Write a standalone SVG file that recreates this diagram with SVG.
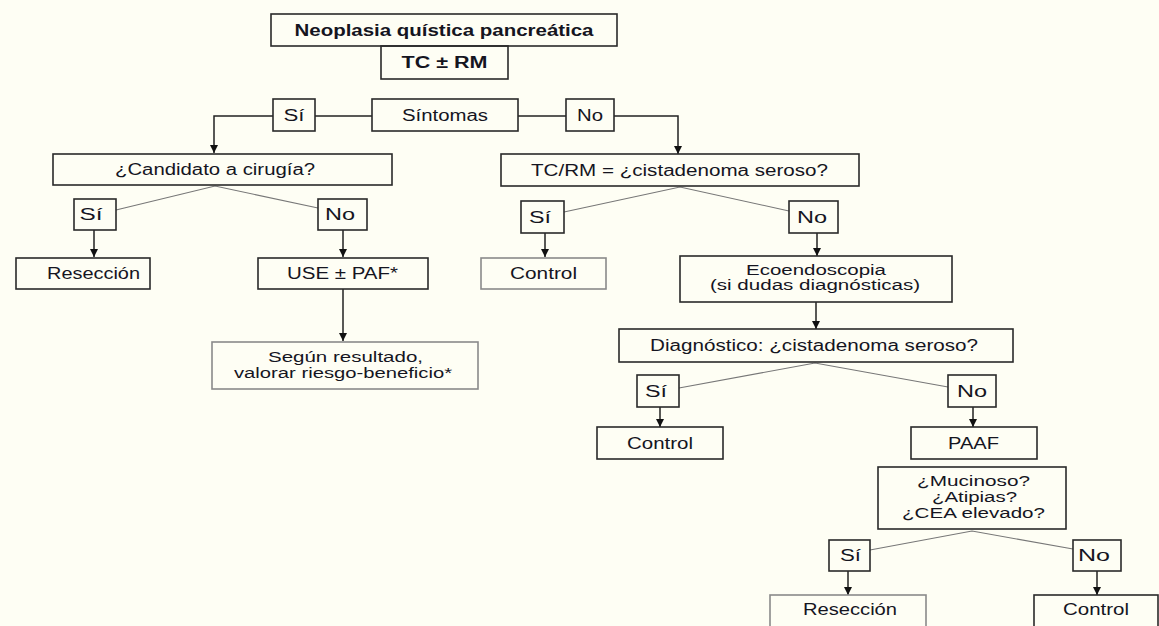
<svg xmlns="http://www.w3.org/2000/svg" width="1159" height="626" viewBox="0 0 1159 626">
<style>
  .bx{fill:none;stroke:#2a2a2a;stroke-width:1.6}
  .gb{fill:none;stroke:#8a8a8a;stroke-width:1.6}
  .t{font-family:"Liberation Sans",Arial,sans-serif;font-size:16px;fill:#15151f;text-anchor:middle}
  .m{font-size:14px}
  .b{font-weight:bold}
  .ln{fill:none;stroke:#222;stroke-width:1.5}
  .dg{fill:none;stroke:#777;stroke-width:1.1}
</style>
<defs>
  <marker id="ah" viewBox="0 0 8 8" refX="8" refY="4" markerWidth="8" markerHeight="8" markerUnits="userSpaceOnUse" orient="auto">
    <path d="M0,0 L8,4 L0,8 Z" fill="#111"/>
  </marker>
</defs>
<rect x="0" y="0" width="1159" height="626" fill="#fefef4"/>

<g id="connectors">
  <polyline class="ln" points="372,116 315,116"/>
  <polyline class="ln" points="273,116 214,116 214,153" marker-end="url(#ah)"/>
  <polyline class="ln" points="518,116 566,116"/>
  <polyline class="ln" points="614,116 678,116 678,154" marker-end="url(#ah)"/>
  <polyline class="dg" points="116,210 215,186 318,208"/>
  <line class="ln" x1="94" y1="230" x2="94" y2="257" marker-end="url(#ah)"/>
  <line class="ln" x1="343" y1="230" x2="343" y2="257" marker-end="url(#ah)"/>
  <line class="ln" x1="343" y1="289" x2="343" y2="341" marker-end="url(#ah)"/>
  <polyline class="dg" points="564,212 680,187 789,211"/>
  <line class="ln" x1="545" y1="233" x2="545" y2="257" marker-end="url(#ah)" stroke="#777"/>
  <line class="ln" x1="817" y1="233" x2="817" y2="256" marker-end="url(#ah)" stroke="#777"/>
  <line class="ln" x1="816" y1="302" x2="816" y2="329" marker-end="url(#ah)"/>
  <polyline class="dg" points="679,388 815,363 948,387"/>
  <line class="ln" x1="660" y1="407" x2="660" y2="427" marker-end="url(#ah)" stroke="#555"/>
  <line class="ln" x1="973" y1="407" x2="973" y2="427" marker-end="url(#ah)" stroke="#555"/>
  <polyline class="dg" points="870,550 972,531 1073,549"/>
  <line class="ln" x1="848" y1="571" x2="848" y2="595" marker-end="url(#ah)"/>
  <line class="ln" x1="1097" y1="571" x2="1097" y2="595" marker-end="url(#ah)"/>
</g>

<g id="n-neoplasia"><rect class="bx" x="271" y="14" width="346" height="32"/><text class="t b" x="444" y="35.5" textLength="299" lengthAdjust="spacingAndGlyphs">Neoplasia quística pancreática</text></g>
<g id="n-tcrm"><rect class="bx" x="381" y="46" width="127" height="33"/><text class="t b" x="444.5" y="68" textLength="86" lengthAdjust="spacingAndGlyphs">TC ± RM</text></g>
<g id="n-si1"><rect class="bx" x="273" y="99" width="42" height="32"/><text class="t" x="294" y="120.5" textLength="21" lengthAdjust="spacingAndGlyphs">Sí</text></g>
<g id="n-sintomas"><rect class="bx" x="372" y="99" width="146" height="32"/><text class="t" x="445" y="120.5" textLength="86" lengthAdjust="spacingAndGlyphs">Síntomas</text></g>
<g id="n-no1"><rect class="bx" x="566" y="99" width="48" height="32"/><text class="t" x="590" y="120.5" textLength="26" lengthAdjust="spacingAndGlyphs">No</text></g>

<g id="n-candidato"><rect class="bx" x="53" y="154" width="339" height="31"/><text class="t" x="215" y="175" textLength="200" lengthAdjust="spacingAndGlyphs">¿Candidato a cirugía?</text></g>
<g id="n-si2"><rect class="bx" x="74" y="199" width="42" height="31"/><text class="t" x="91" y="220" textLength="23" lengthAdjust="spacingAndGlyphs">Sí</text></g>
<g id="n-no2"><rect class="bx" x="318" y="199" width="49" height="31"/><text class="t" x="340" y="220" textLength="30" lengthAdjust="spacingAndGlyphs">No</text></g>
<g id="n-reseccion1"><rect class="bx" x="16" y="258" width="134" height="31"/><text class="t" x="93.5" y="279" textLength="93" lengthAdjust="spacingAndGlyphs">Resección</text></g>
<g id="n-use"><rect class="bx" x="258" y="258" width="170" height="31"/><text class="t" x="342.5" y="279" textLength="111" lengthAdjust="spacingAndGlyphs">USE ± PAF*</text></g>
<g id="n-segun"><rect class="gb" x="212" y="342" width="266" height="47"/><text class="t m" x="345.5" y="362" textLength="155" lengthAdjust="spacingAndGlyphs">Según resultado,</text><text class="t m" x="343" y="378" textLength="218" lengthAdjust="spacingAndGlyphs">valorar riesgo-beneficio*</text></g>

<g id="n-tcrm-q"><rect class="bx" x="501" y="154" width="358" height="32"/><text class="t" x="679.5" y="175.5" textLength="297" lengthAdjust="spacingAndGlyphs">TC/RM = ¿cistadenoma seroso?</text></g>
<g id="n-si3"><rect class="bx" x="521" y="201" width="43" height="32"/><text class="t" x="540" y="222.5" textLength="22" lengthAdjust="spacingAndGlyphs">Sí</text></g>
<g id="n-no3"><rect class="bx" x="789" y="201" width="49" height="32"/><text class="t" x="812" y="222.5" textLength="30" lengthAdjust="spacingAndGlyphs">No</text></g>
<g id="n-control1"><rect class="gb" x="481" y="258" width="125" height="31"/><text class="t" x="543.5" y="279" textLength="67" lengthAdjust="spacingAndGlyphs">Control</text></g>
<g id="n-eco"><rect class="bx" x="680" y="256" width="272" height="46"/><text class="t m" x="816" y="274.5" textLength="140" lengthAdjust="spacingAndGlyphs">Ecoendoscopia</text><text class="t m" x="815" y="290" textLength="210" lengthAdjust="spacingAndGlyphs">(si dudas diagnósticas)</text></g>

<g id="n-diag"><rect class="bx" x="619" y="329" width="394" height="33"/><text class="t" x="814" y="351" textLength="328" lengthAdjust="spacingAndGlyphs">Diagnóstico: ¿cistadenoma seroso?</text></g>
<g id="n-si4"><rect class="bx" x="637" y="375" width="42" height="32"/><text class="t" x="656" y="396.5" textLength="22" lengthAdjust="spacingAndGlyphs">Sí</text></g>
<g id="n-no4"><rect class="bx" x="948" y="375" width="48" height="32"/><text class="t" x="972" y="396.5" textLength="30" lengthAdjust="spacingAndGlyphs">No</text></g>
<g id="n-control2"><rect class="bx" x="597" y="427" width="126" height="32"/><text class="t" x="660" y="448.5" textLength="66" lengthAdjust="spacingAndGlyphs">Control</text></g>
<g id="n-paaf"><rect class="bx" x="911" y="427" width="126" height="32"/><text class="t" x="973.5" y="448.5" textLength="51" lengthAdjust="spacingAndGlyphs">PAAF</text></g>

<g id="n-mucinoso"><rect class="bx" x="878" y="467" width="188" height="62"/><text class="t m" x="973.5" y="486" textLength="113" lengthAdjust="spacingAndGlyphs">¿Mucinoso?</text><text class="t m" x="974.5" y="502" textLength="85" lengthAdjust="spacingAndGlyphs">¿Atipias?</text><text class="t m" x="973.5" y="518" textLength="143" lengthAdjust="spacingAndGlyphs">¿CEA elevado?</text></g>
<g id="n-si5"><rect class="bx" x="829" y="540" width="41" height="31"/><text class="t" x="850.5" y="561" textLength="21" lengthAdjust="spacingAndGlyphs">Sí</text></g>
<g id="n-no5"><rect class="bx" x="1073" y="540" width="48" height="31"/><text class="t" x="1094" y="561" textLength="32" lengthAdjust="spacingAndGlyphs">No</text></g>
<g id="n-reseccion2"><rect class="gb" x="770" y="595" width="156" height="40"/><text class="t" x="850" y="615" textLength="94" lengthAdjust="spacingAndGlyphs">Resección</text></g>
<g id="n-control3"><rect class="bx" x="1034" y="595" width="124" height="40"/><text class="t" x="1096" y="615" textLength="66" lengthAdjust="spacingAndGlyphs">Control</text></g>
</svg>
